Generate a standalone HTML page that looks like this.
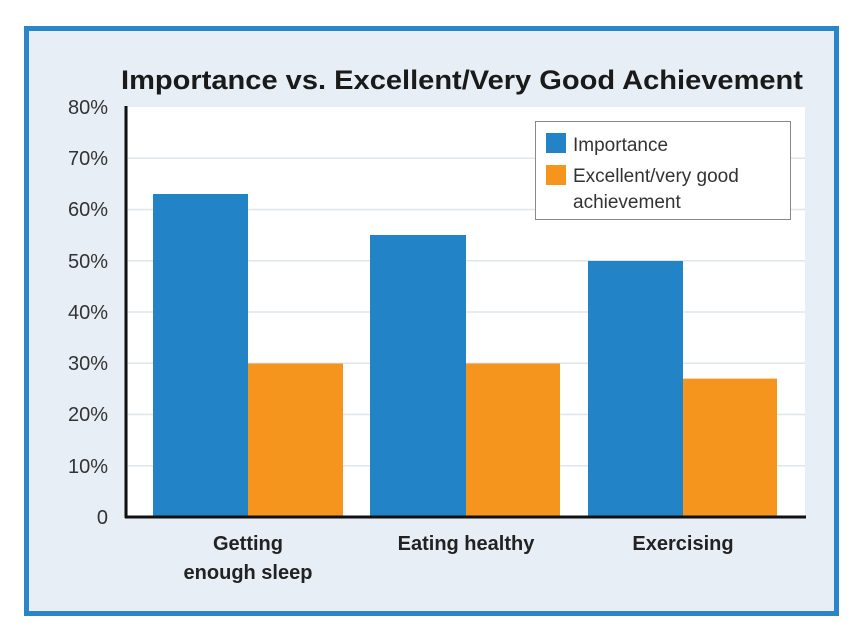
<!DOCTYPE html><html><head><style>body{margin:0;background:#fff}</style></head><body>
<svg width="850" height="635" xmlns="http://www.w3.org/2000/svg" font-family="Liberation Sans, sans-serif">
<rect x="0" y="0" width="850" height="635" fill="#fff"/>
<rect x="26.5" y="28.5" width="810" height="585" fill="#e8eef6" stroke="#2a86c8" stroke-width="5"/>
<rect x="128" y="107" width="677" height="410" fill="#fff"/>
<g stroke="#dde6ea" stroke-width="1.5">
<line x1="128" x2="805" y1="158.25" y2="158.25"/><line x1="128" x2="805" y1="209.5" y2="209.5"/>
<line x1="128" x2="805" y1="260.75" y2="260.75"/><line x1="128" x2="805" y1="312" y2="312"/>
<line x1="128" x2="805" y1="363.25" y2="363.25"/><line x1="128" x2="805" y1="414.5" y2="414.5"/>
<line x1="128" x2="805" y1="465.75" y2="465.75"/></g>
<g fill="#2283c6"><rect x="153" y="194" width="95" height="323"/><rect x="370" y="235" width="96" height="282"/><rect x="588" y="261" width="95" height="256"/></g>
<g fill="#f5951e"><rect x="248" y="363.5" width="95" height="153.5"/><rect x="466" y="363.5" width="94" height="153.5"/><rect x="683" y="378.6" width="94" height="138.4"/></g>
<line x1="126" y1="106" x2="126" y2="518" stroke="#111" stroke-width="3"/>
<line x1="125" y1="517" x2="806" y2="517" stroke="#111" stroke-width="3"/>
<text x="121" y="89" textLength="682" lengthAdjust="spacingAndGlyphs" font-size="27" font-weight="bold" fill="#1a1a1a">Importance vs. Excellent/Very Good Achievement</text>
<g font-size="20" fill="#333" text-anchor="end">
<text x="108" y="114">80%</text><text x="108" y="165">70%</text><text x="108" y="216">60%</text><text x="108" y="268">50%</text>
<text x="108" y="319">40%</text><text x="108" y="370">30%</text><text x="108" y="421">20%</text><text x="108" y="473">10%</text><text x="108" y="524">0</text></g>
<rect x="535.5" y="121.5" width="255" height="98" fill="#fff" stroke="#888" stroke-width="1"/>
<rect x="546" y="133" width="20" height="20" fill="#2283c6"/><rect x="546" y="165" width="20" height="20" fill="#f5951e"/>
<g font-size="19" fill="#333"><text x="573" y="151">Importance</text><text x="573" y="182">Excellent/very good</text><text x="573" y="208">achievement</text></g>
<g font-size="20" font-weight="bold" fill="#222" text-anchor="middle">
<text x="248" y="550">Getting</text><text x="248" y="579">enough sleep</text>
<text x="466" y="550">Eating healthy</text><text x="683" y="550">Exercising</text></g>
</svg></body></html>
